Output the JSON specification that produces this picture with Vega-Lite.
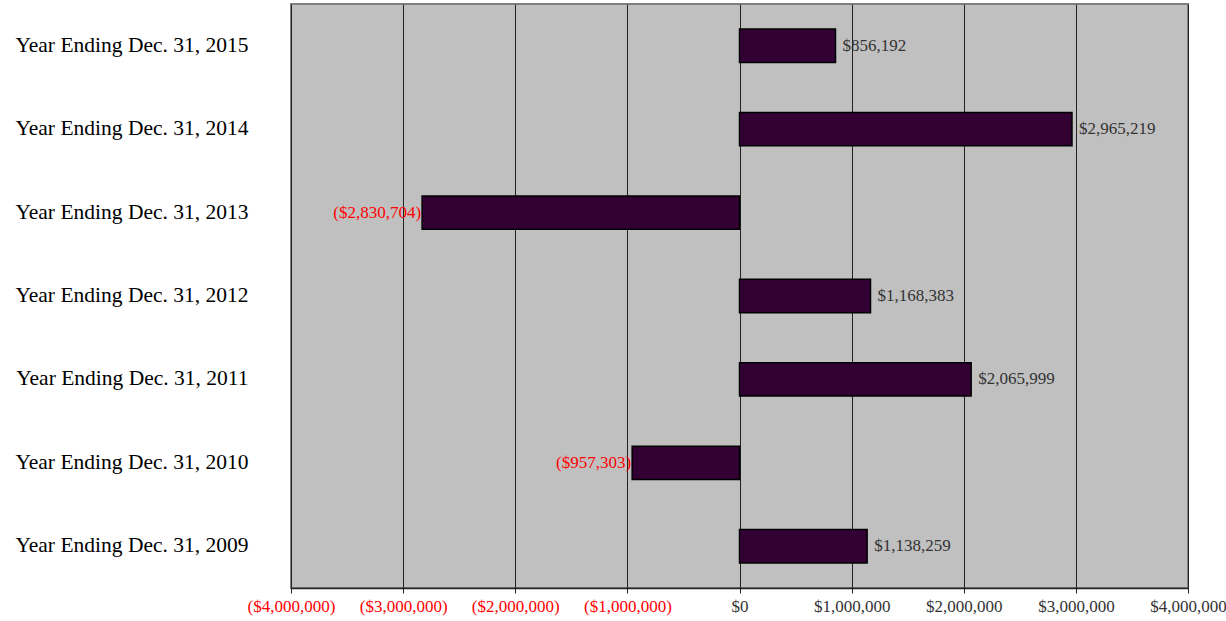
{
  "$schema": "https://vega.github.io/schema/vega-lite/v6.json",
  "width": 897,
  "height": 584,
  "autosize": {"type": "none"},
  "padding": {"left": 291, "top": 4, "right": 38, "bottom": 33},
  "background": "white",
  "config": {
    "font": "Liberation Serif",
    "view": {"fill": "#C0C0C0", "stroke": "#808080", "strokeWidth": 2}
  },
  "data": {
    "values": [
      {"year": "Year Ending Dec. 31, 2015", "value": 856192, "label": "$856,192"},
      {"year": "Year Ending Dec. 31, 2014", "value": 2965219, "label": "$2,965,219"},
      {"year": "Year Ending Dec. 31, 2013", "value": -2830704, "label": "($2,830,704)"},
      {"year": "Year Ending Dec. 31, 2012", "value": 1168383, "label": "$1,168,383"},
      {"year": "Year Ending Dec. 31, 2011", "value": 2065999, "label": "$2,065,999"},
      {"year": "Year Ending Dec. 31, 2010", "value": -957303, "label": "($957,303)"},
      {"year": "Year Ending Dec. 31, 2009", "value": 1138259, "label": "$1,138,259"}
    ]
  },
  "encoding": {
    "y": {
      "field": "year",
      "type": "nominal",
      "sort": null,
      "scale": {"paddingInner": 0.6, "paddingOuter": 0.3},
      "axis": {
        "title": null,
        "domain": false,
        "ticks": false,
        "labelFont": "Liberation Serif",
        "labelFontSize": 21.5,
        "labelColor": "black",
        "labelPadding": 43,
        "labelLimit": 300
      }
    },
    "x": {
      "field": "value",
      "type": "quantitative",
      "scale": {"domain": [-4000000, 4000000], "nice": false},
      "axis": {
        "title": null,
        "values": [-4000000, -3000000, -2000000, -1000000, 0, 1000000, 2000000, 3000000, 4000000],
        "labelExpr": "datum.value < 0 ? '($' + format(-datum.value, ',') + ')' : '$' + format(datum.value, ',')",
        "labelColor": {"condition": {"test": "datum.value < 0", "value": "#FF0000"}, "value": "#333333"},
        "labelFont": "Liberation Serif",
        "labelFontSize": 17,
        "labelPadding": 5,
        "grid": true,
        "gridColor": "#222222",
        "gridWidth": 1,
        "gridOpacity": 1,
        "domainColor": "#222222",
        "domainWidth": 1.5,
        "tickColor": "#222222",
        "tickSize": 5,
        "labelFlush": false
      }
    }
  },
  "layer": [
    {
      "mark": {"type": "bar", "fill": "#330033", "stroke": "#000000", "strokeWidth": 1.5}
    },
    {
      "transform": [{"filter": "datum.value >= 0"}],
      "mark": {"type": "text", "align": "left", "baseline": "middle", "dx": 7, "fontSize": 17, "color": "#333333", "font": "Liberation Serif"},
      "encoding": {"text": {"field": "label"}}
    },
    {
      "transform": [{"filter": "datum.value < 0"}],
      "mark": {"type": "text", "align": "right", "baseline": "middle", "dx": -1, "fontSize": 17, "color": "#FF0000", "font": "Liberation Serif"},
      "encoding": {"text": {"field": "label"}}
    }
  ]
}
